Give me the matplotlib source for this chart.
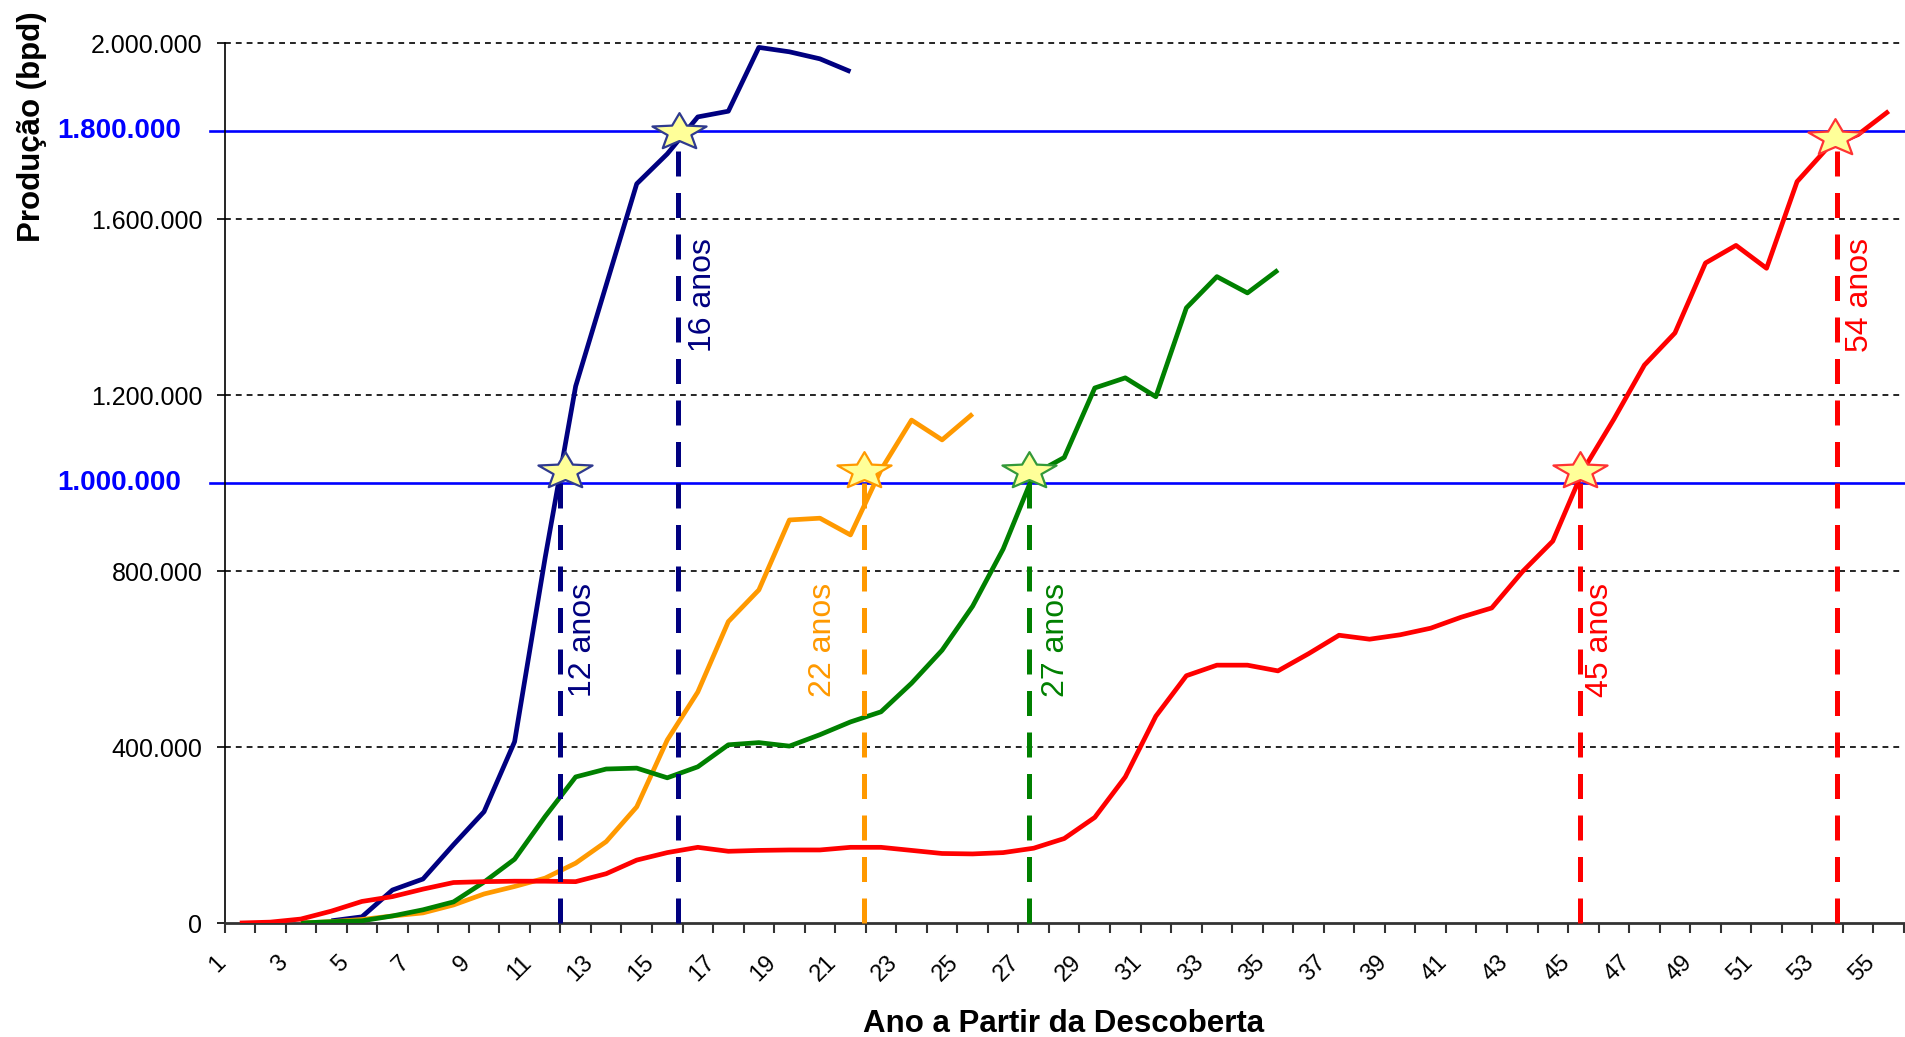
import numpy as np
import matplotlib
matplotlib.use("Agg")
import matplotlib.pyplot as plt
import matplotlib.transforms as mtransforms
from matplotlib.path import Path
from matplotlib.ticker import FuncFormatter

plt.rcParams['font.family'] = ['Liberation Sans', 'DejaVu Sans']

# producao em mil bpd, por ano a partir da descoberta
anos_azul = list(range(4, 22))
prod_azul = [5, 14, 75, 100, 178, 253, 412, 830, 1220, 1450, 1680, 1748, 1832, 1845,
             1990, 1980, 1964, 1935]

anos_laranja = list(range(3, 26))
prod_laranja = [0, 3, 8, 16, 23, 41, 66, 83, 102, 136, 185, 264, 416, 525, 685, 757,
                916, 920, 882, 1030, 1143, 1098, 1157]

anos_verde = list(range(3, 36))
prod_verde = [0, 3, 5, 16, 30, 48, 93, 145, 242, 332, 350, 352, 330, 355, 405, 410,
              402, 428, 457, 480, 545, 620, 720, 850, 1020, 1058, 1216, 1239, 1196,
              1398, 1469, 1432, 1484]

anos_vermelho = list(range(1, 56))
prod_vermelho = [0, 2, 9, 27, 49, 60, 77, 92, 94, 95, 95, 94, 112, 143, 160, 172, 163,
                 165, 166, 166, 172, 172, 165, 158, 157, 160, 170, 192, 240, 332, 470,
                 562, 586, 586, 573, 612, 654, 645, 655, 670, 695, 716, 798, 868, 1030,
                 1145, 1268, 1341, 1500, 1540, 1488, 1685, 1762, 1792, 1845]

cores = ['#000080', '#FF9900', '#008000', '#FF0000']

# marcos de 1.000.000 e 1.800.000 bpd
limites = [1000000, 1800000]
marco_texto = ['12 anos', '16 anos', '22 anos', '27 anos', '45 anos', '54 anos']
marco_x = [11.5, 15.35, 21.43, 26.83, 44.9, 53.3]
marco_nivel = [1000000, 1800000, 1000000, 1000000, 1000000, 1800000]
estrela_x = [11.65, 15.4, 21.45, 26.85, 44.9, 53.25]
estrela_y = [1027000, 1798000, 1027000, 1027000, 1027000, 1784000]
marco_cor = ['#000080', '#000080', '#FF9900', '#008000', '#FF0000', '#FF0000']
estrela_borda = ['#2F3A8F', '#2F3A8F', '#FF9900', '#33993A', '#FF3333', '#FF3333']

y_ticks = [0, 400000, 800000, 1200000, 1600000, 2000000]


def star_path(sx=1.47, inner=0.44):
    ang = np.pi / 2 + np.arange(10) * np.pi / 5
    r = np.where(np.arange(10) % 2 == 0, 1.0, inner)
    v = np.column_stack([sx * r * np.cos(ang), r * np.sin(ang)])
    v = np.vstack([v, v[0]])
    codes = [Path.MOVETO] + [Path.LINETO] * 9 + [Path.CLOSEPOLY]
    return Path(v, codes)


fig = plt.figure(figsize=(19.05, 10.37), dpi=100)
ax = fig.add_axes([0.11785, 0.10993, 0.8816, 0.8486])

# grade tracejada
for v in y_ticks[1:]:
    ax.axhline(v, color='black', lw=1.2, dashes=(3.5, 3), zorder=1, clip_on=False)

# linhas azuis de referencia
for v in limites:
    ax.axhline(v, xmin=-0.0086, xmax=1, color='#0000FF', lw=1.9, zorder=2, clip_on=False)
    ax.annotate(f'{v:,}'.replace(',', '.'), xy=(0, v), xycoords=ax.get_yaxis_transform(),
                xytext=(-31, 0), textcoords='offset points', ha='right', va='center',
                color='#0000FF', fontweight='bold', fontsize=20, annotation_clip=False)

series = [(anos_azul, prod_azul), (anos_laranja, prod_laranja),
          (anos_verde, prod_verde), (anos_vermelho, prod_vermelho)]
for (xs, ys), c in zip(series, cores):
    ax.plot(xs, np.array(ys) * 1000, color=c, lw=3.4, zorder=4,
            solid_joinstyle='round', solid_capstyle='butt')

# linhas verticais, estrelas e textos
estrela = star_path()
desloc = [16, 18, -29, 20, 14.4, 16.6]
for i in range(len(marco_x)):
    x = marco_x[i]
    nivel = marco_nivel[i]
    ax.plot([x, x], [0, nivel], color=marco_cor[i], lw=3.6, dashes=(5, 3.3),
            zorder=5, clip_on=False)
    ax.plot([estrela_x[i]], [estrela_y[i]], marker=estrela, markersize=39,
            markerfacecolor='#FFFF99', markeredgecolor=estrela_borda[i],
            markeredgewidth=1.6, zorder=6, clip_on=False)
    y_txt = 643000 if nivel == 1000000 else 1428000
    ax.annotate(marco_texto[i], xy=(x, y_txt), xytext=(desloc[i], 0),
                textcoords='offset points', rotation=90, ha='center', va='center',
                color=marco_cor[i], fontsize=23, zorder=7)

ax.set_xlim(0.5, 55.5)
ax.set_ylim(0, 2000000)

ax.set_yticks(y_ticks)
ax.yaxis.set_major_formatter(FuncFormatter(lambda v, p: f'{int(v):,}'.replace(',', '.')))
ax.tick_params(axis='y', length=6, width=1.2, pad=10, labelsize=18, direction='out')

ax.set_xticks(list(range(1, 56, 2)))
ax.set_xticklabels([str(a) for a in range(1, 56, 2)], rotation=45, ha='right',
                   va='center', rotation_mode='anchor')
ax.set_xticks(np.arange(0.5, 56, 1), minor=True)
ax.tick_params(axis='x', which='major', length=0, pad=26, labelsize=17)
ax.tick_params(axis='x', which='minor', length=7, width=1.5, direction='out',
               color='#333333')
desl = mtransforms.ScaledTranslation(-17 / 100, 0, fig.dpi_scale_trans)
for lbl in ax.get_xticklabels():
    lbl.set_transform(lbl.get_transform() + desl)

for s in ['top', 'right']:
    ax.spines[s].set_visible(False)
ax.spines['left'].set_linewidth(1.2)
ax.spines['left'].set_color('black')
ax.spines['bottom'].set_linewidth(2)
ax.spines['bottom'].set_color('#333333')
ax.spines['bottom'].set_zorder(3)

fig.text(32.5 / 1905, 1 - 126.7 / 1037, 'Produção (bpd)', rotation=90, ha='center',
         va='center', fontsize=22.5, fontweight='bold')
fig.text(1064 / 1905, 1 - 1032 / 1037, 'Ano a Partir da Descoberta', ha='center',
         va='baseline', fontsize=22.5, fontweight='bold')

fig.savefig('out.png', dpi=100)
